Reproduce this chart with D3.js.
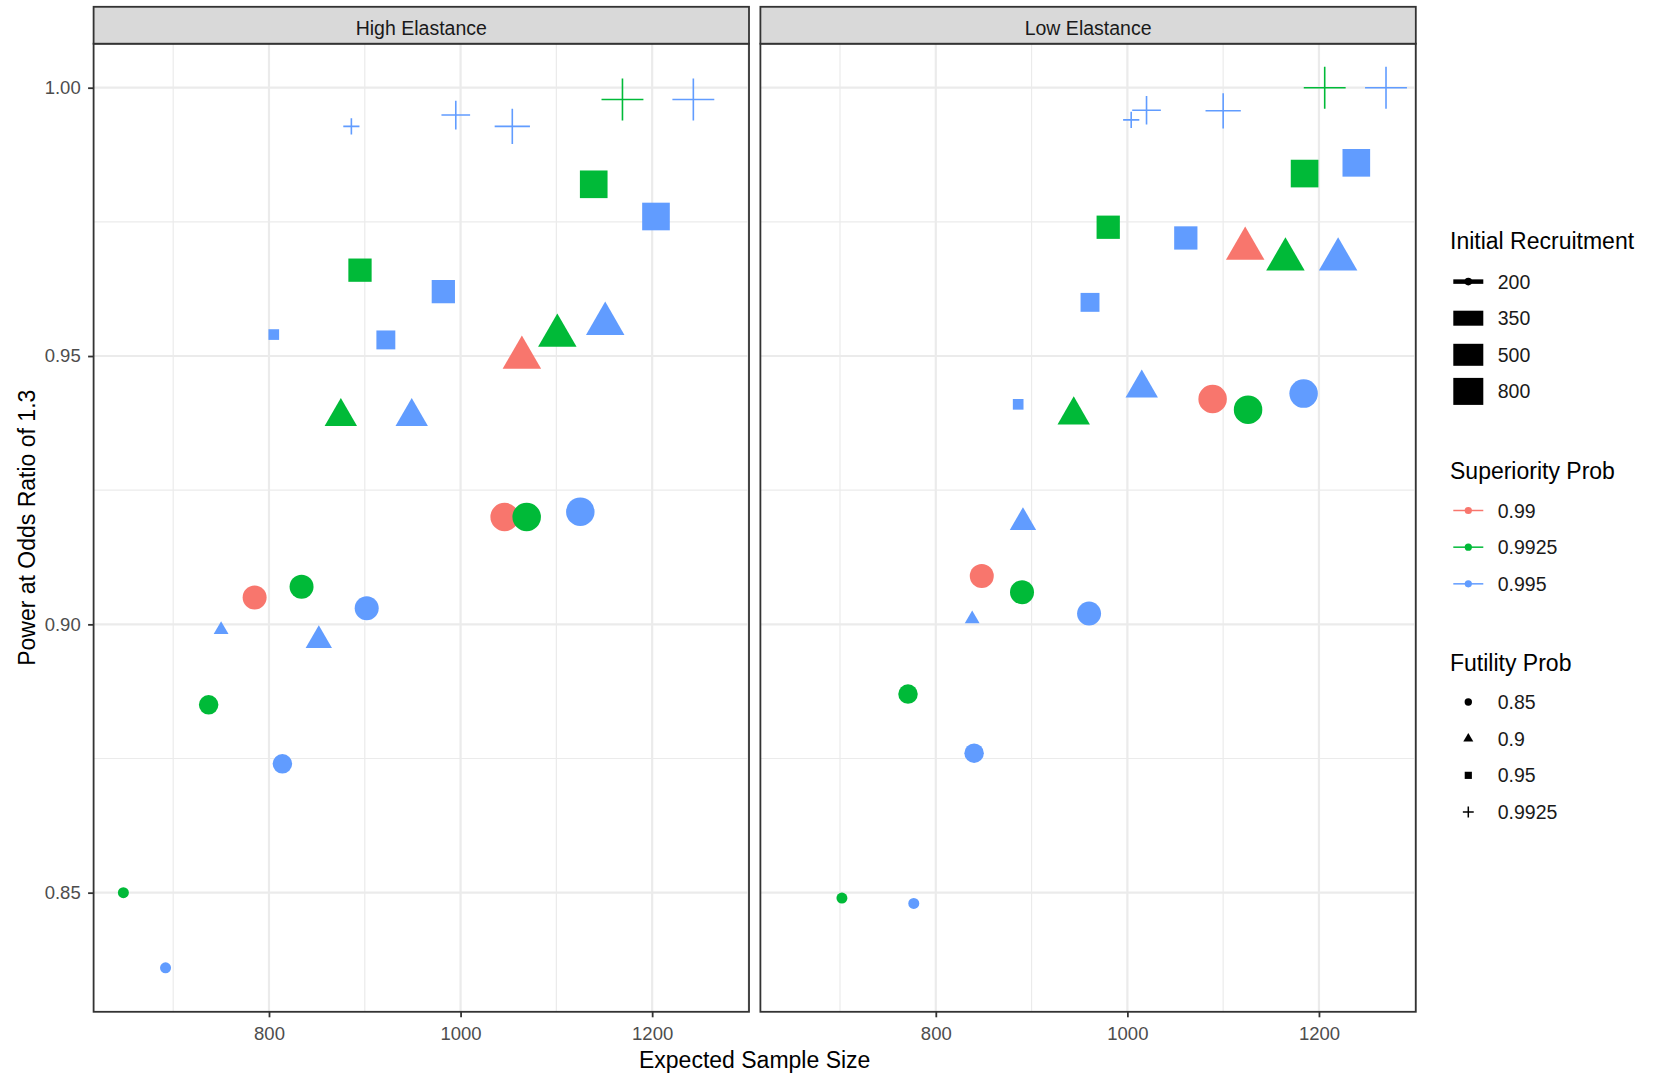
<!DOCTYPE html>
<html>
<head>
<meta charset="utf-8">
<script src="https://cdn.jsdelivr.net/npm/d3@7"></script>
<style>
  body { margin: 0; background: #fff; }
  text { font-family: "Liberation Sans", Arial, sans-serif; }
</style>
</head>
<body>
<svg id="chart" width="1663" height="1076"></svg>
<script>
// facet panels
const panels = ["High Elastance", "Low Elastance"];

// design of each run (same 28 runs in both panels)
const supProb = [0.9925, 0.995, 0.9925, 0.995, 0.99, 0.9925, 0.995, 0.99, 0.9925, 0.995,
  0.995, 0.995, 0.9925, 0.995, 0.99, 0.9925, 0.995,
  0.995, 0.995, 0.9925, 0.995, 0.9925, 0.995,
  0.995, 0.995, 0.995, 0.9925, 0.995];
const futProb = [0.85, 0.85, 0.85, 0.85, 0.85, 0.85, 0.85, 0.85, 0.85, 0.85,
  0.9, 0.9, 0.9, 0.9, 0.9, 0.9, 0.9,
  0.95, 0.95, 0.95, 0.95, 0.95, 0.95,
  0.9925, 0.9925, 0.9925, 0.9925, 0.9925];
const recruit = [200, 200, 350, 350, 500, 500, 500, 800, 800, 800,
  200, 350, 500, 500, 800, 800, 800,
  200, 350, 500, 500, 800, 800,
  200, 350, 500, 800, 800];

// results, High Elastance
const highSampleSize = [648, 692, 737, 814, 785, 834, 902, 1046, 1069, 1125,
  750, 852, 875, 949, 1064, 1101, 1151,
  805, 922, 895, 982, 1139, 1204,
  886, 995, 1054, 1169, 1243];
const highPower = [0.850, 0.836, 0.885, 0.874, 0.905, 0.907, 0.903, 0.920, 0.920, 0.921,
  0.899, 0.897, 0.9387, 0.9387, 0.9497, 0.9538, 0.956,
  0.954, 0.953, 0.966, 0.962, 0.982, 0.976,
  0.9928, 0.9949, 0.9928, 0.9978, 0.9978];

// results, Low Elastance
const lowSampleSize = [702, 777, 771, 840, 848, 890, 960, 1089, 1126, 1184,
  838, 891, 944, 1015, 1123, 1165, 1220,
  886, 961, 980, 1061, 1185, 1239,
  1004, 1020, 1100, 1206, 1270];
const lowPower = [0.849, 0.848, 0.887, 0.876, 0.909, 0.906, 0.902, 0.942, 0.940, 0.943,
  0.901, 0.919, 0.939, 0.944, 0.970, 0.968, 0.968,
  0.941, 0.960, 0.974, 0.972, 0.984, 0.986,
  0.994, 0.9958, 0.9957, 1.000, 1.000];

// legend levels and axis ticks
const recruitLevels = [200, 350, 500, 800];
const supLevels = [0.99, 0.9925, 0.995];
const futLevels = [0.85, 0.9, 0.95, 0.9925];
const xTicks = [800, 1000, 1200];
const xMinor = [700, 900, 1100, 1300];
const yTicks = [0.85, 0.90, 0.95, 1.00];
const yMinor = [0.825, 0.875, 0.925, 0.975];

const panelData = [
  { name: panels[0], xs: highSampleSize, ys: highPower },
  { name: panels[1], xs: lowSampleSize, ys: lowPower }
];

const svg = d3.select("#chart");
const font = "'Liberation Sans', Arial, sans-serif";

const stripTop = 6.8, panelTop = 43.7, panelBottom = 1011.8;
const panelLeft = [93.6, 760.4];
const panelWidth = 655.4;

// shared scales with ggplot style 5% expansion
const allX = highSampleSize.concat(lowSampleSize);
const allY = highPower.concat(lowPower);
const [x0, x1] = d3.extent(allX);
const [y0, y1] = d3.extent(allY);
const x = d3.scaleLinear()
  .domain([x0 - (x1 - x0) * 0.05, x1 + (x1 - x0) * 0.05])
  .range([0, panelWidth]);
const y = d3.scaleLinear()
  .domain([y0 - (y1 - y0) * 0.05, y1 + (y1 - y0) * 0.05])
  .range([panelBottom, panelTop]);

const color = d3.scaleOrdinal().domain(supLevels).range(["#F8766D", "#00BA38", "#619CFF"]);
const shape = d3.scaleOrdinal().domain(futLevels).range(["circle", "triangle", "square", "plus"]);
const size = d3.scaleOrdinal().domain(recruitLevels).range([11, 19.5, 24, 28.5]);

function markerPath(kind, d) {
  const p = d3.path();
  if (kind === "circle") {
    p.moveTo(d / 2, 0);
    p.arc(0, 0, d / 2, 0, 2 * Math.PI);
  } else if (kind === "triangle") {
    const r = d * 0.78, hx = r * Math.sqrt(3) / 2;
    p.moveTo(0, -r);
    p.lineTo(hx, r / 2);
    p.lineTo(-hx, r / 2);
    p.closePath();
  } else if (kind === "square") {
    const h = d * 0.485;
    p.rect(-h, -h, 2 * h, 2 * h);
  } else {
    const a = d * 0.735;
    p.moveTo(-a, 0); p.lineTo(a, 0);
    p.moveTo(0, -a); p.lineTo(0, a);
  }
  return p.toString();
}

panelData.forEach((pd, pi) => {
  const g = svg.append("g").attr("transform", `translate(${panelLeft[pi]},0)`);

  // minor grid
  g.append("g").selectAll("line.vminor")
    .data(xMinor.filter(v => v > x.domain()[0] && v < x.domain()[1]))
    .enter().append("line")
    .attr("x1", d => x(d)).attr("x2", d => x(d))
    .attr("y1", panelTop).attr("y2", panelBottom)
    .attr("stroke", "#EBEBEB").attr("stroke-width", 1.2);
  g.append("g").selectAll("line.hminor")
    .data(yMinor.filter(v => v > y.domain()[0] && v < y.domain()[1]))
    .enter().append("line")
    .attr("x1", 0).attr("x2", panelWidth)
    .attr("y1", d => y(d)).attr("y2", d => y(d))
    .attr("stroke", "#EBEBEB").attr("stroke-width", 1.2);

  // major grid
  g.append("g").selectAll("line")
    .data(xTicks)
    .enter().append("line")
    .attr("x1", d => x(d)).attr("x2", d => x(d))
    .attr("y1", panelTop).attr("y2", panelBottom)
    .attr("stroke", "#EBEBEB").attr("stroke-width", 2.2);
  g.append("g").selectAll("line")
    .data(yTicks)
    .enter().append("line")
    .attr("x1", 0).attr("x2", panelWidth)
    .attr("y1", d => y(d)).attr("y2", d => y(d))
    .attr("stroke", "#EBEBEB").attr("stroke-width", 2.2);

  // points
  const pts = pd.xs.map((v, i) => ({
    x: v, y: pd.ys[i], sup: supProb[i], fut: futProb[i], rec: recruit[i]
  }));
  g.append("g").selectAll("path")
    .data(pts)
    .enter().append("path")
    .attr("transform", d => `translate(${x(d.x)},${y(d.y)})`)
    .attr("d", d => markerPath(shape(d.fut), size(d.rec)))
    .attr("fill", d => shape(d.fut) === "plus" ? "none" : color(d.sup))
    .attr("stroke", d => shape(d.fut) === "plus" ? color(d.sup) : "none")
    .attr("stroke-width", 1.6);

  // panel border
  g.append("rect")
    .attr("x", 0).attr("y", panelTop)
    .attr("width", panelWidth).attr("height", panelBottom - panelTop)
    .attr("fill", "none").attr("stroke", "#333333").attr("stroke-width", 1.8);

  // strip
  g.append("rect")
    .attr("x", 0).attr("y", stripTop)
    .attr("width", panelWidth).attr("height", panelTop - stripTop)
    .attr("fill", "#D9D9D9").attr("stroke", "#333333").attr("stroke-width", 1.8);
  g.append("text")
    .attr("x", panelWidth / 2).attr("y", (stripTop + panelTop) / 2 + 2.5)
    .attr("dy", "0.36em")
    .attr("text-anchor", "middle")
    .attr("fill", "#1A1A1A")
    .style("font-size", "19.5px")
    .text(pd.name);

  // x axis
  g.append("g")
    .attr("transform", `translate(0,${panelBottom})`)
    .call(d3.axisBottom(x).tickValues(xTicks).tickSize(5.5).tickPadding(9.7).tickFormat(d3.format("d")))
    .attr("font-family", font).attr("font-size", 18.5)
    .call(a => a.select(".domain").remove())
    .call(a => a.selectAll(".tick line").attr("stroke", "#333333").attr("stroke-width", 1.8))
    .call(a => a.selectAll(".tick text").attr("fill", "#4D4D4D"));

  if (pi === 0) {
    g.append("g")
      .call(d3.axisLeft(y).tickValues(yTicks).tickSize(5.5).tickPadding(7.4).tickFormat(d3.format(".2f")))
      .attr("font-family", font).attr("font-size", 18.5)
      .call(a => a.select(".domain").remove())
      .call(a => a.selectAll(".tick line").attr("stroke", "#333333").attr("stroke-width", 1.8))
      .call(a => a.selectAll(".tick text").attr("fill", "#4D4D4D"));
  }
});

// axis titles
svg.append("text")
  .attr("x", (panelLeft[0] + panelLeft[1] + panelWidth) / 2)
  .attr("y", 1068)
  .attr("text-anchor", "middle")
  .style("font-size", "23px")
  .text("Expected Sample Size");

svg.append("text")
  .attr("transform", `translate(27,${(panelTop + panelBottom) / 2}) rotate(-90)`)
  .attr("dy", "0.36em")
  .attr("text-anchor", "middle")
  .style("font-size", "23px")
  .text("Power at Odds Ratio of 1.3");

// legends
const legX = 1450, keyX = 1453.3, keyW = 30, keyCx = 1468.3, labX = 1497.7;

function legendTitle(text, baseline) {
  svg.append("text")
    .attr("x", legX).attr("y", baseline)
    .style("font-size", "23px")
    .text(text);
}
function legendLabels(levels, y0, step) {
  svg.append("g").selectAll("text")
    .data(levels)
    .enter().append("text")
    .attr("x", labX).attr("y", (d, i) => y0 + i * step)
    .attr("dy", "0.36em")
    .style("font-size", "19.5px")
    .attr("fill", "#1A1A1A")
    .text(d => String(d));
}

// Initial Recruitment
legendTitle("Initial Recruitment", 249);
const recBar = d3.scaleOrdinal().domain(recruitLevels).range([4.5, 15, 22, 27]);
const recKeys = svg.append("g").selectAll("g")
  .data(recruitLevels)
  .enter().append("g")
  .attr("transform", (d, i) => `translate(0,${281.6 + i * 36.6})`);
recKeys.append("rect")
  .attr("x", keyX).attr("y", d => -recBar(d) / 2)
  .attr("width", keyW).attr("height", d => recBar(d))
  .attr("fill", "#000");
recKeys.append("circle")
  .attr("cx", keyCx).attr("cy", 0).attr("r", 3.8)
  .attr("fill", "#000");
legendLabels(recruitLevels, 281.6, 36.6);

// Superiority Prob
legendTitle("Superiority Prob", 479);
const supKeys = svg.append("g").selectAll("g")
  .data(supLevels)
  .enter().append("g")
  .attr("transform", (d, i) => `translate(0,${510.5 + i * 36.67})`);
supKeys.append("line")
  .attr("x1", keyX).attr("x2", keyX + keyW)
  .attr("y1", 0).attr("y2", 0)
  .attr("stroke", d => color(d)).attr("stroke-width", 1.5);
supKeys.append("circle")
  .attr("cx", keyCx).attr("cy", 0).attr("r", 3.6)
  .attr("fill", d => color(d));
legendLabels(supLevels, 510.5, 36.67);

// Futility Prob
legendTitle("Futility Prob", 670.5);
svg.append("g").selectAll("path")
  .data(futLevels)
  .enter().append("path")
  .attr("transform", (d, i) => `translate(${keyCx},${702 + i * 36.67})`)
  .attr("d", d => markerPath(shape(d), 7.4))
  .attr("fill", d => shape(d) === "plus" ? "none" : "#000")
  .attr("stroke", d => shape(d) === "plus" ? "#000" : "none")
  .attr("stroke-width", 1.5);
legendLabels(futLevels, 702, 36.67);
</script>
</body>
</html>
